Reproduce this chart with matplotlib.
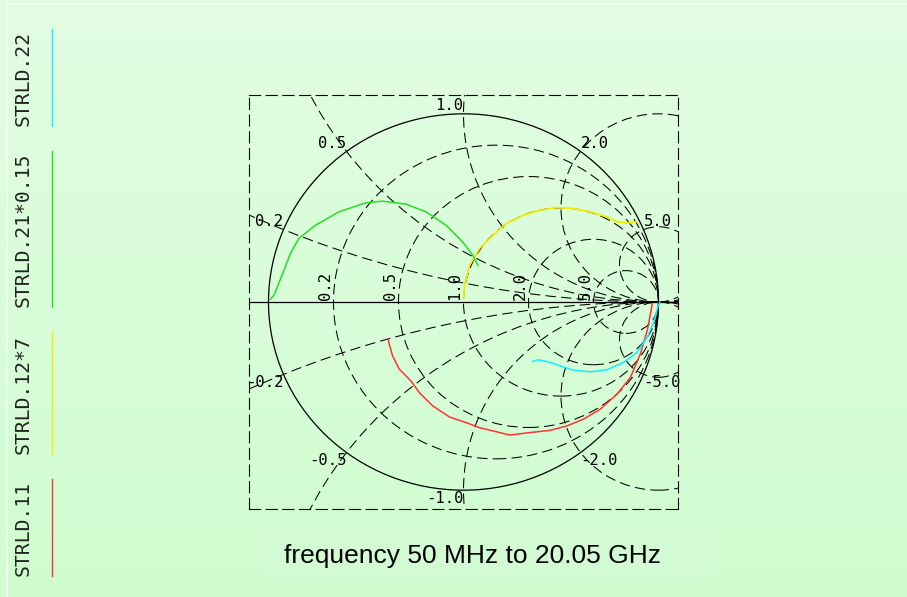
import numpy as np
import matplotlib
matplotlib.use("Agg")
import matplotlib.pyplot as plt
from matplotlib.patches import Circle, Rectangle
from matplotlib.lines import Line2D

# ---------------- data (reflection coefficient, real / imag) ----------------
s11_re = [-0.387, -0.381, -0.364, -0.330, -0.270, -0.227, -0.158, -0.072, 0.014, 0.082,
          0.151, 0.237, 0.340, 0.443, 0.529, 0.615, 0.701, 0.787, 0.856, 0.907,
          0.942, 0.962, 0.968]
s11_im = [-0.196, -0.223, -0.285, -0.356, -0.419, -0.481, -0.552, -0.611, -0.641, -0.668,
          -0.685, -0.707, -0.694, -0.682, -0.659, -0.623, -0.570, -0.490, -0.401, -0.276,
          -0.152, -0.045, -0.010]

s12x7_re = [0.000, 0.005, 0.031, 0.082, 0.151, 0.220, 0.306, 0.392, 0.478, 0.563,
            0.649, 0.736, 0.787, 0.839, 0.890]
s12x7_im = [0.017, 0.088, 0.195, 0.284, 0.355, 0.417, 0.461, 0.488, 0.502, 0.497,
            0.479, 0.452, 0.426, 0.420, 0.426]

s21x015_re = [-0.991, -0.971, -0.931, -0.888, -0.845, -0.759, -0.639, -0.502, -0.416,
              -0.295, -0.192, -0.089, -0.004, 0.048, 0.074]
s21x015_im = [0.013, 0.038, 0.141, 0.257, 0.337, 0.408, 0.479, 0.527, 0.536,
              0.520, 0.479, 0.408, 0.319, 0.248, 0.195]

s22_re = [0.354, 0.383, 0.426, 0.478, 0.563, 0.649, 0.736, 0.821, 0.890, 0.942,
          0.976, 0.996, 1.007]
s22_im = [-0.316, -0.307, -0.316, -0.333, -0.362, -0.371, -0.360, -0.321, -0.268, -0.188,
          -0.108, -0.028, -0.001]

legend_labels = ["STRLD.22", "STRLD.21*0.15", "STRLD.12*7", "STRLD.11"]
resistance_values = [0.2, 0.5, 1.0, 2.0, 5.0]
reactance_values = [0.2, 0.5, 1.0, 2.0, 5.0]
resistance_labels = ["0.2", "0.5", "1.0", "2.0", "5.0"]
reactance_labels = ["0.2", "0.5", "1.0", "2.0", "5.0"]
caption = "frequency 50 MHz to 20.05 GHz"

# ---------------- styling ----------------
W, H = 907, 597
DPI = 100
MONO = "DejaVu Sans Mono"
col_s11 = "#ff3333"
col_s12 = "#eeee00"
col_s21 = "#22e022"
col_s22 = "#11eeff"
dash = (0, (10, 5))

fig = plt.figure(figsize=(W / DPI, H / DPI), dpi=DPI)

# background gradient
bg = fig.add_axes([0, 0, 1, 1], zorder=-10)
top = np.array([226, 253, 226]) / 255.0
bot = np.array([207, 252, 207]) / 255.0
t = np.linspace(0, 1, 256)[:, None]
grad = top[None, :] * (1 - t) + bot[None, :] * t
bg.imshow(grad[:, None, :], aspect="auto", extent=[0, 1, 0, 1], origin="upper")
bg.set_xlim(0, 1)
bg.set_ylim(0, 1)
bg.axis("off")
# thin light frame lines (top and left)
fx = 7 / W
fy = 1 - 4 / H
bg.plot([fx, 1], [fy, fy], color="#f4fff4", lw=1.2)
bg.plot([fx, fx], [0, fy], color="#f4fff4", lw=1.2)
# faint caption box
bg.add_patch(Rectangle((263 / W, 1 - 578 / H), (716 - 263) / W, (578 - 531) / H,
                       facecolor="#d3fbd3", edgecolor="none"))

# ---------------- Smith chart axes ----------------
x0, x1, y0, y1 = 249, 678, 95, 509
ax = fig.add_axes([x0 / W, 1 - y1 / H, (x1 - x0) / W, (y1 - y0) / H])
ax.set_xlim(-1.1, 1.1)
ax.set_ylim(-1.1, 1.1)
ax.set_facecolor("none")
ax.set_xticks([])
ax.set_yticks([])
for sp in ax.spines.values():
    sp.set_linestyle(dash)
    sp.set_linewidth(0.8)
    sp.set_color("black")

# unit circle and real axis
ax.add_patch(Circle((0, 0), 1.0, fill=False, color="black", lw=0.9, zorder=3))
ax.axhline(0, color="black", lw=0.9, zorder=3)

# resistance circles
for r in resistance_values:
    ax.add_patch(Circle((r / (1 + r), 0), 1 / (1 + r), fill=False, color="black",
                        lw=0.75, linestyle=dash, zorder=2))
# reactance arcs (full circles clipped to the box)
for xv in reactance_values:
    for s in (1, -1):
        ax.add_patch(Circle((1, s / xv), 1 / xv, fill=False, color="black",
                            lw=0.75, linestyle=dash, zorder=2, clip_on=True))

lab_kw = dict(family=MONO, fontsize=11.2, color="black", zorder=5)
# reactance labels
for xv, lab in zip(reactance_values, reactance_labels):
    u = (xv ** 2 - 1) / (xv ** 2 + 1)
    v = 2 * xv / (xv ** 2 + 1)
    ha = "right" if u <= 0.01 else "left"
    ax.text(u, v + 0.005, lab, ha=ha, va="bottom", **lab_kw)
    ax.text(u, -v - 0.005, "-" + lab, ha=ha, va="top", **lab_kw)
# resistance labels
for r, lab in zip(resistance_values, resistance_labels):
    u = (r - 1) / (r + 1)
    ax.text(u - 0.005, 0.012, lab, rotation=90, ha="right", va="bottom", **lab_kw)

# traces
ax.plot(s11_re, s11_im, color=col_s11, lw=1.1, zorder=4)
ax.plot(s12x7_re, s12x7_im, color=col_s12, lw=1.3, zorder=4)
ax.plot(s21x015_re, s21x015_im, color=col_s21, lw=1.1, zorder=4)
ax.plot(s22_re, s22_im, color=col_s22, lw=1.1, zorder=4)

# ---------------- legend (vertical, left) ----------------
legend_colors = [col_s22, col_s21, col_s12, col_s11]
legend_spans = [(29, 126), (151, 307), (332, 454), (479, 576)]
for lab, c, (ya, yb) in zip(legend_labels, legend_colors, legend_spans):
    fig.text(23 / W, 1 - yb / H, lab, rotation=90, ha="center", va="bottom",
             family=MONO, fontsize=14.2, color="#222222")
    fig.add_artist(Line2D([52 / W, 52 / W], [1 - ya / H, 1 - yb / H],
                          color=c, lw=1.0, transform=fig.transFigure))

# caption
fig.text(472 / W, 1 - 556 / H, caption, ha="center", va="center",
         family="Liberation Sans", fontsize=19, color="black")

fig.savefig("out.png", dpi=DPI)
